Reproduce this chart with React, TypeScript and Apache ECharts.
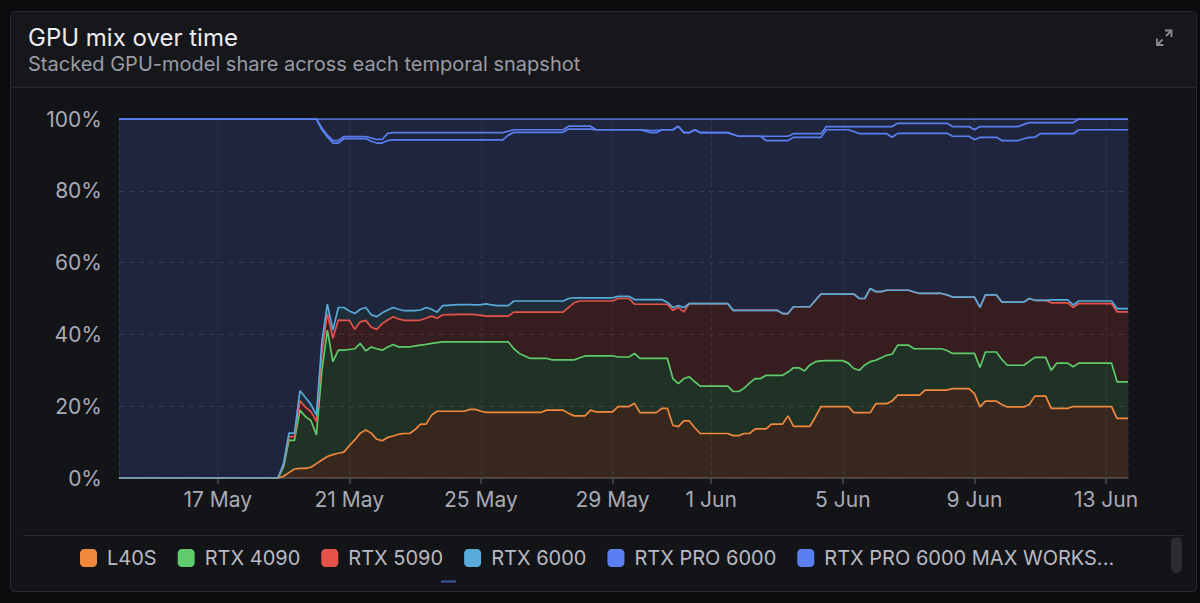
import React, { useEffect, useRef } from 'react';
import * as echarts from 'echarts';

// ---- data -------------------------------------------------------------
const SERIES_NAMES = [
  'L40S',
  'RTX 4090',
  'RTX 5090',
  'RTX 6000',
  'RTX PRO 6000',
  'RTX PRO 6000 MAX WORKSTATION',
  'RTX PRO 6000 SERVER',
];
const LEGEND_COUNT = 6;
const SERIES_COLORS = ['#f0883e', '#5fcb6a', '#e5534b', '#58aad8', '#5a7ff2', '#5b7ef0', '#5d80f4'];
const MONTHS = ['Jan', 'Feb', 'Mar', 'Apr', 'May', 'Jun', 'Jul', 'Aug', 'Sep', 'Oct', 'Nov', 'Dec'];
const SNAPSHOT_START = '2025-05-14T00:00:00';
const SNAPSHOT_STEP_HOURS = 4;

// share (%) per snapshot, one value every 4 hours
const L40S = [
  0, 0, 0, 0, 0, 0, 0, 0, 0, 0,
  0, 0, 0, 0, 0, 0, 0, 0, 0, 0,
  0, 0, 0, 0, 0, 0, 0, 0, 0, 0,
  0.5, 1.5, 2.5, 2.7, 2.7, 3, 4, 5, 6, 6.5,
  6.9, 7.2, 9, 10.6, 12.5, 13.4, 12.5, 10.8, 10.4, 11.3,
  11.7, 12.2, 12.4, 12.4, 13.5, 15, 15, 17.5, 18.6, 18.6,
  18.6, 18.6, 18.6, 18.6, 19.1, 19.1, 18.6, 18.3, 18.3, 18.3,
  18.3, 18.3, 18.3, 18.3, 18.3, 18.3, 18.3, 18.3, 18.9, 18.9,
  18.9, 18.9, 18, 17.3, 17.3, 17.3, 18.9, 18.4, 18.4, 18.4,
  18.4, 19.9, 19.9, 19.9, 20.8, 18.2, 18.2, 18.2, 18.2, 19.4,
  19.4, 14.7, 14.3, 15.9, 15.9, 14, 12.4, 12.4, 12.4, 12.4,
  12.4, 12.4, 11.8, 11.8, 12.4, 12.4, 13.7, 13.7, 13.7, 15,
  15, 15, 17.3, 14.4, 14.4, 14.4, 14.4, 17, 19.9, 19.9,
  19.9, 19.9, 19.9, 19.9, 18.2, 18.2, 18.2, 18.2, 20.7, 20.7,
  20.7, 21.5, 23.1, 23.1, 23.1, 23.1, 23.1, 24.5, 24.5, 24.5,
  24.5, 24.5, 24.9, 24.9, 24.9, 24.9, 23.5, 19.8, 21.4, 21.4,
  21.4, 20.5, 19.8, 19.8, 19.8, 19.8, 20.5, 22.8, 22.8, 22.8,
  19.4, 19.4, 19.4, 19.4, 19.9, 19.9, 19.9, 19.9, 19.9, 19.9,
  19.9, 19.9, 16.6, 16.6, 16.6,
];
const RTX_4090 = [
  0, 0, 0, 0, 0, 0, 0, 0, 0, 0,
  0, 0, 0, 0, 0, 0, 0, 0, 0, 0,
  0, 0, 0, 0, 0, 0, 0, 0, 0, 0,
  2.5, 9, 8, 16.2, 14.4, 13, 8, 25, 35.2, 25.9,
  28.7, 28.4, 26.8, 25.4, 25, 22, 24, 25.2, 25.2, 25.2,
  25.5, 24.3, 24.1, 24.1, 23.3, 22, 22.2, 20, 19.1, 19.3,
  19.3, 19.3, 19.3, 19.3, 18.8, 18.8, 19.3, 19.6, 19.6, 19.6,
  19.6, 19.6, 17.7, 16.4, 15.7, 15, 15, 15, 14.4, 14,
  14, 14, 14.9, 15.6, 16.2, 16.7, 15.1, 15.6, 15.6, 15.6,
  15.6, 13.8, 13.8, 13.8, 13.9, 15.1, 15.1, 15.1, 15.1, 13.9,
  13.9, 13, 12, 11.8, 12.3, 12.8, 13.2, 13.2, 13.2, 13.2,
  13.2, 13.2, 12.3, 12.3, 12.6, 14.1, 14, 14, 14.9, 13.6,
  13.6, 13.6, 12.2, 16.3, 16.3, 15.4, 17.1, 15.4, 12.7, 12.8,
  12.8, 12.8, 12.8, 12.1, 12.3, 11.8, 13.3, 14.2, 12.1, 12.8,
  13.5, 13, 13.9, 13.9, 13.9, 12.9, 12.9, 11.5, 11.5, 11.5,
  11.5, 11, 9.8, 9.8, 9.8, 9.8, 11.2, 11, 13.7, 13.7,
  13.7, 12.5, 11.6, 11.6, 11.6, 11.6, 12, 10.8, 10.8, 10.8,
  10.6, 12.6, 12.6, 12.6, 11.1, 12.1, 12.1, 12.1, 12.1, 12.1,
  12.1, 12.1, 10.2, 10.2, 10.2,
];
const RTX_5090 = [
  0, 0, 0, 0, 0, 0, 0, 0, 0, 0,
  0, 0, 0, 0, 0, 0, 0, 0, 0, 0,
  0, 0, 0, 0, 0, 0, 0, 0, 0, 0,
  0.5, 1, 1, 2.6, 2.6, 2.5, 3.7, 5, 4.6, 6.5,
  8.4, 8.3, 8.1, 5.4, 6, 8.5, 5.5, 5.4, 7.4, 7.5,
  7.7, 7.8, 7.4, 7.4, 7.1, 7, 7.3, 7.6, 6.8, 7.5,
  7.6, 7.6, 7.7, 7.7, 7.7, 7.6, 7.4, 7.2, 7.2, 7.2,
  7.2, 7.2, 10.2, 11.5, 12.2, 12.9, 12.9, 12.9, 12.9, 13.3,
  13.3, 13.3, 14.6, 15.9, 15.8, 15.3, 15.3, 15.3, 15.3, 15.3,
  15.3, 16.3, 16.3, 16.3, 13.7, 15.1, 15.1, 15.1, 15.1, 15.1,
  15.1, 19, 21.2, 18.5, 20.4, 21.8, 23, 23, 23, 23,
  23, 23, 22.6, 22.6, 21.7, 20.2, 19, 19, 18.1, 18.1,
  18.1, 17.2, 16.3, 17, 17, 17.9, 16.2, 17.1, 18.6, 18.5,
  18.5, 18.5, 18.5, 19.2, 20.7, 20, 18.5, 20.4, 19.1, 18.4,
  18.1, 17.8, 15.3, 15.3, 15.3, 15.8, 15.4, 15.4, 15.4, 15.4,
  15.4, 15.5, 15.7, 15.7, 15.7, 15.7, 15.7, 16.7, 15.9, 15.9,
  15.9, 16, 17.6, 17.6, 17.6, 17.6, 17.5, 15.9, 15.9, 15.9,
  18.8, 16.8, 16.8, 16.8, 16.5, 16.6, 16.6, 16.6, 16.6, 16.6,
  16.6, 16.6, 19.5, 19.5, 19.5,
];
const RTX_6000 = [
  0, 0, 0, 0, 0, 0, 0, 0, 0, 0,
  0, 0, 0, 0, 0, 0, 0, 0, 0, 0,
  0, 0, 0, 0, 0, 0, 0, 0, 0, 0,
  0.5, 1, 1, 2.8, 2.7, 2, 1.8, 3, 2.6, 2.3,
  3.5, 3.6, 2.6, 4.4, 3.5, 3.6, 3.5, 3.5, 3, 2.8,
  2.6, 2.7, 2.7, 2.7, 2.7, 2.8, 3, 1.9, 1.7, 2.6,
  2.6, 2.7, 2.7, 2.7, 2.7, 2.7, 3, 3.4, 3.1, 2.9,
  2.9, 2.9, 3.1, 3.1, 3.1, 3.1, 3.1, 3.1, 3.1, 3.1,
  3.1, 3.1, 2.5, 1.4, 0.9, 0.9, 0.9, 0.9, 0.9, 0.9,
  0.9, 0.6, 0.6, 0.6, 1.3, 1.3, 1.3, 1.3, 1.3, 1.3,
  0.5, 0.8, 0.5, 1.3, 0, 0, 0, 0, 0, 0,
  0, 0, 0, 0, 0, 0, 0, 0, 0, 0,
  0, 0, 0, 0, 0, 0, 0, 0, 0, 0,
  0, 0, 0, 0, 0, 0, 0, 0, 0, 0,
  0, 0, 0, 0, 0, 0, 0, 0, 0, 0,
  0, 0, 0, 0, 0, 0, 0, 0, 0, 0,
  0, 0, 0, 0, 0, 0, 0, 0, 0, 0,
  0.8, 0.8, 0.8, 0.8, 0.7, 0.7, 0.7, 0.7, 0.7, 0.7,
  0.7, 0.7, 0.9, 0.9, 0.9,
];
const RTX_PRO_6000 = [
  100, 100, 100, 100, 100, 100, 100, 100, 100, 100,
  100, 100, 100, 100, 100, 100, 100, 100, 100, 100,
  100, 100, 100, 100, 100, 100, 100, 100, 100, 100,
  96, 87.5, 87.5, 75.7, 77.6, 79.5, 82.5, 59, 46.6, 52.1,
  45.8, 47, 48, 48.7, 47.5, 47, 48.3, 48.4, 47.3, 47.2,
  46.7, 47.2, 47.6, 47.6, 47.6, 47.4, 46.7, 47.2, 48, 46.2,
  46.1, 46, 45.9, 45.9, 45.9, 46, 45.9, 45.7, 46, 46.2,
  46.2, 47.5, 47, 47, 47, 47, 47, 47, 47, 47,
  47, 47, 47.2, 47, 47, 47, 47, 46.8, 46.8, 46.8,
  46.8, 46.4, 46.4, 46.4, 47.3, 47.3, 46.9, 46.5, 46.5, 47.3,
  48.1, 49.5, 50, 48.7, 47.6, 48.4, 47.6, 47.6, 47.6, 47.6,
  47.6, 47.6, 49, 48.5, 48.5, 48.5, 48.5, 48.5, 47.3, 47.3,
  47.3, 48.2, 48.2, 47.2, 47.2, 47.2, 47.2, 45.4, 43.7, 45.8,
  45.8, 45.8, 45.8, 45.8, 45.3, 45.9, 45.9, 43.1, 44, 44,
  43.6, 42.6, 43.7, 43.7, 43.7, 44.2, 44.6, 44.6, 44.6, 44.6,
  44.6, 45, 44.8, 44.8, 44.8, 44.8, 43.8, 47.4, 43.9, 43.9,
  43.9, 45, 45, 45, 45, 45.5, 44.9, 45.4, 46.4, 46.4,
  46.3, 46.3, 46.3, 46.3, 47.7, 47.7, 47.7, 47.7, 47.7, 47.7,
  47.7, 47.7, 49.8, 49.8, 49.8,
];
const RTX_PRO_6000_MAX = [
  0, 0, 0, 0, 0, 0, 0, 0, 0, 0,
  0, 0, 0, 0, 0, 0, 0, 0, 0, 0,
  0, 0, 0, 0, 0, 0, 0, 0, 0, 0,
  0, 0, 0, 0, 0, 0, 0, 0.5, 0.5, 0.7,
  0.7, 0.6, 0.6, 0.6, 0.6, 0.6, 0.9, 1, 1, 2,
  2, 2, 2, 2, 2, 2, 2, 2, 2, 2,
  2, 2, 2, 2, 2, 2, 2, 2, 2, 2,
  2, 1.1, 0.7, 0.7, 0.7, 0.7, 0.7, 0.7, 0.7, 0.7,
  0.7, 0.7, 0.8, 0.8, 0.8, 0.8, 0.8, 0, 0, 0,
  0, 0, 0, 0, 0, 0, 0.3, 0.6, 0.6, 0,
  0, 0, 0, 0, 0, 0, 0, 0, 0, 0,
  0, 0, 0, 0, 0, 0, 0, 0, 1.2, 1.2,
  1.2, 1.2, 1.2, 1, 1, 1, 1, 1, 1, 0.9,
  0.9, 0.9, 0.9, 0.9, 1.4, 2, 2, 2, 2, 2,
  2, 3, 2.8, 2.8, 2.8, 2.8, 2.8, 2.8, 2.8, 2.8,
  2.8, 2.8, 2.7, 2.7, 2.7, 2.7, 2.8, 3, 3, 3,
  3, 3.9, 3.9, 3.9, 3.9, 4, 4.1, 4.1, 3.1, 3.1,
  3.1, 3.1, 3.1, 3.1, 3.1, 3, 3, 3, 3, 3,
  3, 3, 3, 3, 3,
];
const RTX_PRO_6000_SERVER = [
  0, 0, 0, 0, 0, 0, 0, 0, 0, 0,
  0, 0, 0, 0, 0, 0, 0, 0, 0, 0,
  0, 0, 0, 0, 0, 0, 0, 0, 0, 0,
  0, 0, 0, 0, 0, 0, 0, 2.5, 4.5, 6,
  6, 4.9, 4.9, 4.9, 4.9, 4.9, 5.3, 5.7, 5.7, 4,
  3.8, 3.8, 3.8, 3.8, 3.8, 3.8, 3.8, 3.8, 3.8, 3.8,
  3.8, 3.8, 3.8, 3.8, 3.8, 3.8, 3.8, 3.8, 3.8, 3.8,
  3.8, 3.4, 3, 3, 3, 3, 3, 3, 3, 3,
  3, 3, 2, 2, 2, 2, 2, 3, 3, 3,
  3, 3, 3, 3, 3, 3, 3.1, 3.2, 3.2, 3,
  3, 3, 2, 3.8, 3.8, 3, 3.8, 3.8, 3.8, 3.8,
  3.8, 3.8, 4.3, 4.8, 4.8, 4.8, 4.8, 4.8, 4.8, 4.8,
  4.8, 4.8, 4.8, 4.1, 4.1, 4.1, 4.1, 4.1, 4.1, 2.1,
  2.1, 2.1, 2.1, 2.1, 2.1, 2.1, 2.1, 2.1, 2.1, 2.1,
  2.1, 2.1, 1.2, 1.2, 1.2, 1.2, 1.2, 1.2, 1.2, 1.2,
  1.2, 1.2, 2.1, 2.1, 2.1, 2.1, 3, 2.1, 2.1, 2.1,
  2.1, 2.1, 2.1, 2.1, 2.1, 1.5, 1, 1, 1, 1,
  1, 1, 1, 1, 1, 0, 0, 0, 0, 0,
  0, 0, 0, 0, 0,
];
const SERIES_VALUES = [L40S, RTX_4090, RTX_5090, RTX_6000, RTX_PRO_6000, RTX_PRO_6000_MAX, RTX_PRO_6000_SERVER];

const TITLE = 'GPU mix over time';
const SUBTITLE = 'Stacked GPU-model share across each temporal snapshot';

// ---- component --------------------------------------------------------
export default function App() {
  const ref = useRef<HTMLDivElement>(null);

  useEffect(() => {
    if (!ref.current) return;
    const chart = echarts.init(ref.current, null, { renderer: 'svg' });
    const start = new Date(SNAPSHOT_START).getTime();
    const times = L40S.map((_, k) => start + k * SNAPSHOT_STEP_HOURS * 3600 * 1000);
    const font = 'Inter';

    const legendData = SERIES_NAMES.slice(0, LEGEND_COUNT).map((name, i) =>
      i === LEGEND_COUNT - 1
        ? { name, textStyle: { width: 292, overflow: 'truncate', ellipsis: '...' } }
        : { name }
    );

    chart.setOption({
      animation: false,
      backgroundColor: '#0b0b0e',
      textStyle: { fontFamily: font },
      graphic: [
        {
          type: 'rect',
          z: -10,
          shape: { x: 10.5, y: 11.5, width: 1186, height: 580, r: 4 },
          style: { fill: '#131418', stroke: '#2a2b31', lineWidth: 1 },
        },
        {
          type: 'rect',
          z: -9,
          shape: { x: 11, y: 12, width: 1185, height: 75.5, r: [4, 4, 0, 0] },
          style: { fill: '#16171b' },
        },
        {
          type: 'line',
          z: -8,
          shape: { x1: 11, y1: 87.5, x2: 1196, y2: 87.5 },
          style: { stroke: '#26272d', lineWidth: 1 },
        },
        {
          type: 'text',
          x: 28,
          y: 37,
          style: { text: TITLE, fill: '#ececf1', fontSize: 24, fontFamily: font, fontWeight: 400, verticalAlign: 'middle', align: 'left' },
        },
        {
          type: 'text',
          x: 28,
          y: 64,
          style: { text: SUBTITLE, fill: '#9a9ba5', fontSize: 20, fontFamily: font, verticalAlign: 'middle', align: 'left' },
        },
        // expand icon
        {
          type: 'group',
          children: [
            { type: 'line', shape: { x1: 1157, y1: 45, x2: 1162.5, y2: 39.5 }, style: { stroke: '#8b8c96', lineWidth: 1.8 } },
            { type: 'line', shape: { x1: 1166, y1: 36, x2: 1171.5, y2: 30.5 }, style: { stroke: '#8b8c96', lineWidth: 1.8 } },
            { type: 'polyline', shape: { points: [[1165, 30.5], [1171.5, 30.5], [1171.5, 37]] }, style: { stroke: '#8b8c96', lineWidth: 1.8, fill: null } },
            { type: 'polyline', shape: { points: [[1157, 38.5], [1157, 45], [1163.5, 45]] }, style: { stroke: '#8b8c96', lineWidth: 1.8, fill: null } },
          ],
        },
        {
          type: 'line',
          z: -8,
          shape: { x1: 23, y1: 535.5, x2: 1183, y2: 535.5 },
          style: { stroke: '#2a2b31', lineWidth: 1 },
        },
        {
          type: 'rect',
          z: -8,
          shape: { x: 1171, y: 537, width: 11, height: 36, r: 5.5 },
          style: { fill: '#2c2d34' },
        },
        {
          type: 'rect',
          z: -8,
          shape: { x: 441, y: 580.5, width: 15, height: 2 },
          style: { fill: '#4a66cc', opacity: 0.8 },
        },
      ],
      legend: {
        data: legendData,
        left: 80,
        top: 548,
        padding: 0,
        icon: 'roundRect',
        itemWidth: 17,
        itemHeight: 18,
        itemGap: 21,
        selectedMode: false,
        textStyle: { color: '#b8b9c2', fontSize: 20, fontFamily: font, padding: [0, 0, 0, 5] },
      },
      grid: { left: 119, right: 72, top: 119, bottom: 125 },
      xAxis: {
        type: 'time',
        min: 'dataMin',
        max: 'dataMax',
        axisLine: { lineStyle: { color: '#4a4b54', width: 1.5 } },
        axisTick: { show: true, length: 6, lineStyle: { color: '#4a4b54', width: 1.5 } },
        axisLabel: {
          color: '#a9aab3',
          fontSize: 21,
          fontFamily: font,
          margin: 11,
          formatter: (value: number) => {
            const d = new Date(value);
            return `${d.getDate()} ${MONTHS[d.getMonth()]}`;
          },
        },
        splitLine: { show: true, lineStyle: { color: '#262a38', type: [4, 4], width: 1 } },
      },
      yAxis: {
        type: 'value',
        min: 0,
        max: 100,
        interval: 20,
        axisLine: { show: false },
        axisTick: { show: false },
        axisLabel: { color: '#a9aab3', fontSize: 21, fontFamily: font, margin: 17, formatter: '{value}%' },
        splitLine: { lineStyle: { color: '#2a2e3e', type: [5, 5], width: 1 } },
      },
      series: SERIES_VALUES.map((vals, s) => ({
        name: SERIES_NAMES[s],
        type: 'line',
        stack: 'share',
        symbol: 'none',
        showSymbol: false,
        z: 3,
        data: vals.map((v, k) => [times[k], v]),
        lineStyle: { width: 1.7, color: SERIES_COLORS[s] },
        itemStyle: { color: SERIES_COLORS[s] },
        areaStyle: { color: SERIES_COLORS[s], opacity: 0.17 },
        emphasis: { disabled: true },
      })),
    });

    return () => chart.dispose();
  }, []);

  return <div ref={ref} style={{ position: 'fixed', left: 0, top: 0, width: 1200, height: 603 }} />;
}
